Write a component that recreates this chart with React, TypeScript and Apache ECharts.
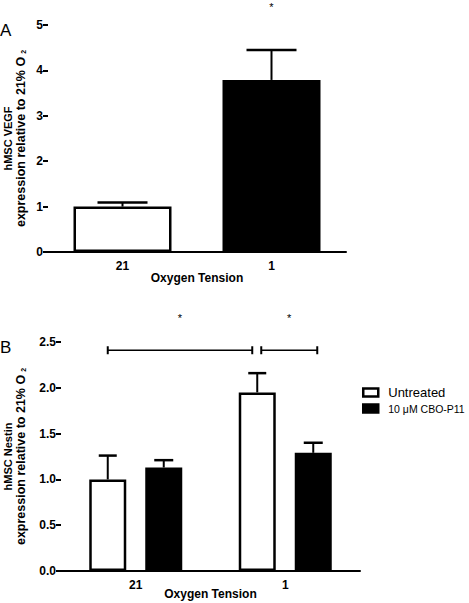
import React, { useEffect, useRef } from 'react';
import * as echarts from 'echarts';

const categories = ['21', '1'];
const vegfMean = [1.0, 3.79];
const vegfUpper = [1.09, 4.45];
const vegfStar = [{ cat: 1, y: 5.4 }];

const seriesNames = ['Untreated', '10 μM CBO-P11'];
const untreatedMean = [1.0, 1.95];
const untreatedUpper = [1.26, 2.16];
const cboMean = [1.13, 1.29];
const cboUpper = [1.21, 1.4];
// comparisons: [category, series] endpoints, bracket level, star level
const brackets = [
  { from: [0, 0], to: [1, 0], y: 2.41, starY: 2.76 },
  { from: [1, 0], to: [1, 1], y: 2.41, starY: 2.76 },
];

const yTicksA = { min: 0, max: 5, interval: 1 };
const yTicksB = { min: 0, max: 2.5, interval: 0.5 };

const FONT = '"Liberation Sans", Arial, Helvetica, sans-serif';
const BAR_B = 37;
const GAP_B = 19;
const OFF_B = (BAR_B + GAP_B) / 2;
const bracketPad = [
  [0, -5],
  [4, 4],
];

const white = { color: '#fff', borderColor: '#000', borderWidth: 2.5 };
const black = { color: '#000', borderColor: '#000', borderWidth: 2.5 };

function errorRenderer(offset: number, capW: number) {
  return (params: any, api: any) => {
    const base = api.coord([api.value(0), api.value(1)]);
    const top = api.coord([api.value(0), api.value(2)]);
    const x = base[0] + offset;
    return {
      type: 'group',
      children: [
        { type: 'line', shape: { x1: x, y1: base[1], x2: x, y2: top[1] }, style: { stroke: '#000', lineWidth: 2 } },
        { type: 'line', shape: { x1: x - capW / 2, y1: top[1], x2: x + capW / 2, y2: top[1] }, style: { stroke: '#000', lineWidth: 2.5 } },
      ],
    };
  };
}

const axisCommon = {
  axisLine: { lineStyle: { color: '#000', width: 2 } },
  axisLabel: { color: '#000', fontFamily: FONT, fontWeight: 'bold', fontSize: 12 },
  splitLine: { show: false },
  nameMoveOverlap: false,
};

export default function App() {
  const ref = useRef<HTMLDivElement>(null);
  useEffect(() => {
    if (!ref.current) return;
    const chart = echarts.init(ref.current, null, { renderer: 'svg' });
    const yRich = {
      t: { fontFamily: FONT, fontWeight: 'bold', fontSize: 11, color: '#000', lineHeight: 13 },
      b: { fontFamily: FONT, fontWeight: 'bold', fontSize: 12.5, color: '#000', lineHeight: 13 },
      s: { fontFamily: FONT, fontWeight: 'bold', fontSize: 7, color: '#000', verticalAlign: 'bottom', padding: [0, 0, 0, 3], lineHeight: 13 },
    };
    const option: any = {
      animation: false,
      textStyle: { fontFamily: FONT },
      grid: [
        { left: 48, top: 25, width: 298, height: 227, containLabel: false, outerBoundsMode: 'none' },
        { left: 61, top: 342, width: 299, height: 229, containLabel: false, outerBoundsMode: 'none' },
      ],
      xAxis: [
        {
          ...axisCommon,
          type: 'category',
          gridIndex: 0,
          data: categories,
          axisTick: { show: false },
          axisLabel: { ...axisCommon.axisLabel, margin: 8 },
          name: 'Oxygen Tension',
          nameLocation: 'middle',
          nameGap: 20,
          nameTextStyle: { color: '#000', fontFamily: FONT, fontWeight: 'bold', fontSize: 12 },
        },
        {
          ...axisCommon,
          type: 'category',
          gridIndex: 1,
          data: categories,
          axisTick: { show: false },
          axisLabel: { ...axisCommon.axisLabel, margin: 8 },
          name: 'Oxygen Tension',
          nameLocation: 'middle',
          nameGap: 17,
          nameTextStyle: { color: '#000', fontFamily: FONT, fontWeight: 'bold', fontSize: 12 },
        },
      ],
      yAxis: [
        {
          ...axisCommon,
          type: 'value',
          gridIndex: 0,
          ...yTicksA,
          axisTick: { show: true, length: 5, lineStyle: { color: '#000', width: 2 } },
          axisLabel: { ...axisCommon.axisLabel, margin: 5 },
          name: '{t|hMSC VEGF}\n{b|expression relative to 21% O}{s|2}',
          nameLocation: 'middle',
          nameRotate: 90,
          nameGap: 21,
          nameTextStyle: { rich: yRich, color: '#000', fontFamily: FONT, fontWeight: 'bold', fontSize: 11, lineHeight: 13 },
        },
        {
          ...axisCommon,
          type: 'value',
          gridIndex: 1,
          ...yTicksB,
          axisTick: { show: true, length: 5, lineStyle: { color: '#000', width: 2 } },
          axisLabel: { ...axisCommon.axisLabel, margin: 5, formatter: (v: number) => v.toFixed(1) },
          name: '{t|hMSC Nestin}\n{b|expression relative to 21% O}{s|2}',
          nameLocation: 'middle',
          nameRotate: 90,
          nameGap: 34,
          nameTextStyle: { rich: yRich, color: '#000', fontFamily: FONT, fontWeight: 'bold', fontSize: 11, lineHeight: 13 },
        },
      ],
      legend: {
        orient: 'vertical',
        left: 357,
        top: 381,
        itemWidth: 15,
        itemHeight: 8,
        itemGap: 4,
        icon: 'rect',
        selectedMode: false,
        textStyle: { color: '#000', fontFamily: FONT, padding: [0, 0, 0, 5] },
        data: [
          { name: seriesNames[0], textStyle: { fontSize: 13 }, itemStyle: { ...white } },
          { name: seriesNames[1], textStyle: { fontSize: 10.5 }, itemStyle: { ...black } },
        ],
      },
      graphic: [
        { type: 'text', left: 0, top: 22, style: { text: 'A', fontFamily: FONT, fontSize: 17, fill: '#000' } },
        { type: 'text', left: 0, top: 339, style: { text: 'B', fontFamily: FONT, fontSize: 17, fill: '#000' } },
      ],
      series: [
        {
          type: 'bar',
          xAxisIndex: 0,
          yAxisIndex: 0,
          barWidth: 98,
          emphasis: { disabled: true },
          data: vegfMean.map((v, i) => ({ value: v, itemStyle: i === 0 ? white : black })),
        },
        {
          type: 'custom',
          xAxisIndex: 0,
          yAxisIndex: 0,
          z: 5,
          itemStyle: { color: '#000' },
          renderItem: errorRenderer(0, 50),
          data: categories.map((_, i) => [i, vegfMean[i], vegfUpper[i]]),
        },
        {
          type: 'custom',
          xAxisIndex: 0,
          yAxisIndex: 0,
          z: 5,
          itemStyle: { color: '#000' },
          renderItem: (params: any, api: any) => {
            const p = api.coord([api.value(0), api.value(1)]);
            return { type: 'text', style: { text: '*', x: p[0], y: p[1], align: 'center', verticalAlign: 'middle', fontSize: 11, fontFamily: FONT, fill: '#000' } };
          },
          data: vegfStar.map((s) => [s.cat, s.y]),
        },
        {
          type: 'bar',
          name: seriesNames[0],
          xAxisIndex: 1,
          yAxisIndex: 1,
          barWidth: BAR_B,
          barGap: (GAP_B / BAR_B) * 100 + '%',
          emphasis: { disabled: true },
          itemStyle: white,
          data: untreatedMean,
        },
        {
          type: 'bar',
          name: seriesNames[1],
          xAxisIndex: 1,
          yAxisIndex: 1,
          barWidth: BAR_B,
          barGap: (GAP_B / BAR_B) * 100 + '%',
          emphasis: { disabled: true },
          itemStyle: black,
          data: cboMean,
        },
        {
          type: 'custom',
          xAxisIndex: 1,
          yAxisIndex: 1,
          z: 5,
          itemStyle: { color: '#000' },
          renderItem: errorRenderer(-OFF_B, 18),
          data: categories.map((_, i) => [i, untreatedMean[i], untreatedUpper[i]]),
        },
        {
          type: 'custom',
          xAxisIndex: 1,
          yAxisIndex: 1,
          z: 5,
          itemStyle: { color: '#000' },
          renderItem: errorRenderer(OFF_B, 19),
          data: categories.map((_, i) => [i, cboMean[i], cboUpper[i]]),
        },
        {
          type: 'custom',
          xAxisIndex: 1,
          yAxisIndex: 1,
          z: 5,
          itemStyle: { color: '#000' },
          renderItem: (params: any, api: any) => {
            const b = brackets[params.dataIndex];
            const pad = bracketPad[params.dataIndex];
            const off = (s: number) => (s === 0 ? -OFF_B : OFF_B);
            const x1 = api.coord([b.from[0], b.y])[0] + off(b.from[1]) + pad[0];
            const x2 = api.coord([b.to[0], b.y])[0] + off(b.to[1]) + pad[1];
            const y = api.coord([0, b.y])[1];
            const ys = api.coord([0, b.starY])[1];
            const st = { stroke: '#000', lineWidth: 1.5 };
            return {
              type: 'group',
              children: [
                { type: 'line', shape: { x1, y1: y, x2, y2: y }, style: st },
                { type: 'line', shape: { x1, y1: y - 4, x2: x1, y2: y + 4 }, style: { stroke: '#000', lineWidth: 2 } },
                { type: 'line', shape: { x1: x2, y1: y - 4, x2, y2: y + 4 }, style: { stroke: '#000', lineWidth: 2 } },
                { type: 'text', style: { text: '*', x: (x1 + x2) / 2, y: ys, align: 'center', verticalAlign: 'middle', fontSize: 11, fontFamily: FONT, fill: '#000' } },
              ],
            };
          },
          data: brackets.map((b) => [b.from[0], b.y]),
        },
      ],
    };
    chart.setOption(option);
    return () => chart.dispose();
  }, []);
  return <div ref={ref} style={{ position: 'absolute', left: 0, top: 0, width: 469, height: 603, background: '#fff' }} />;
}
